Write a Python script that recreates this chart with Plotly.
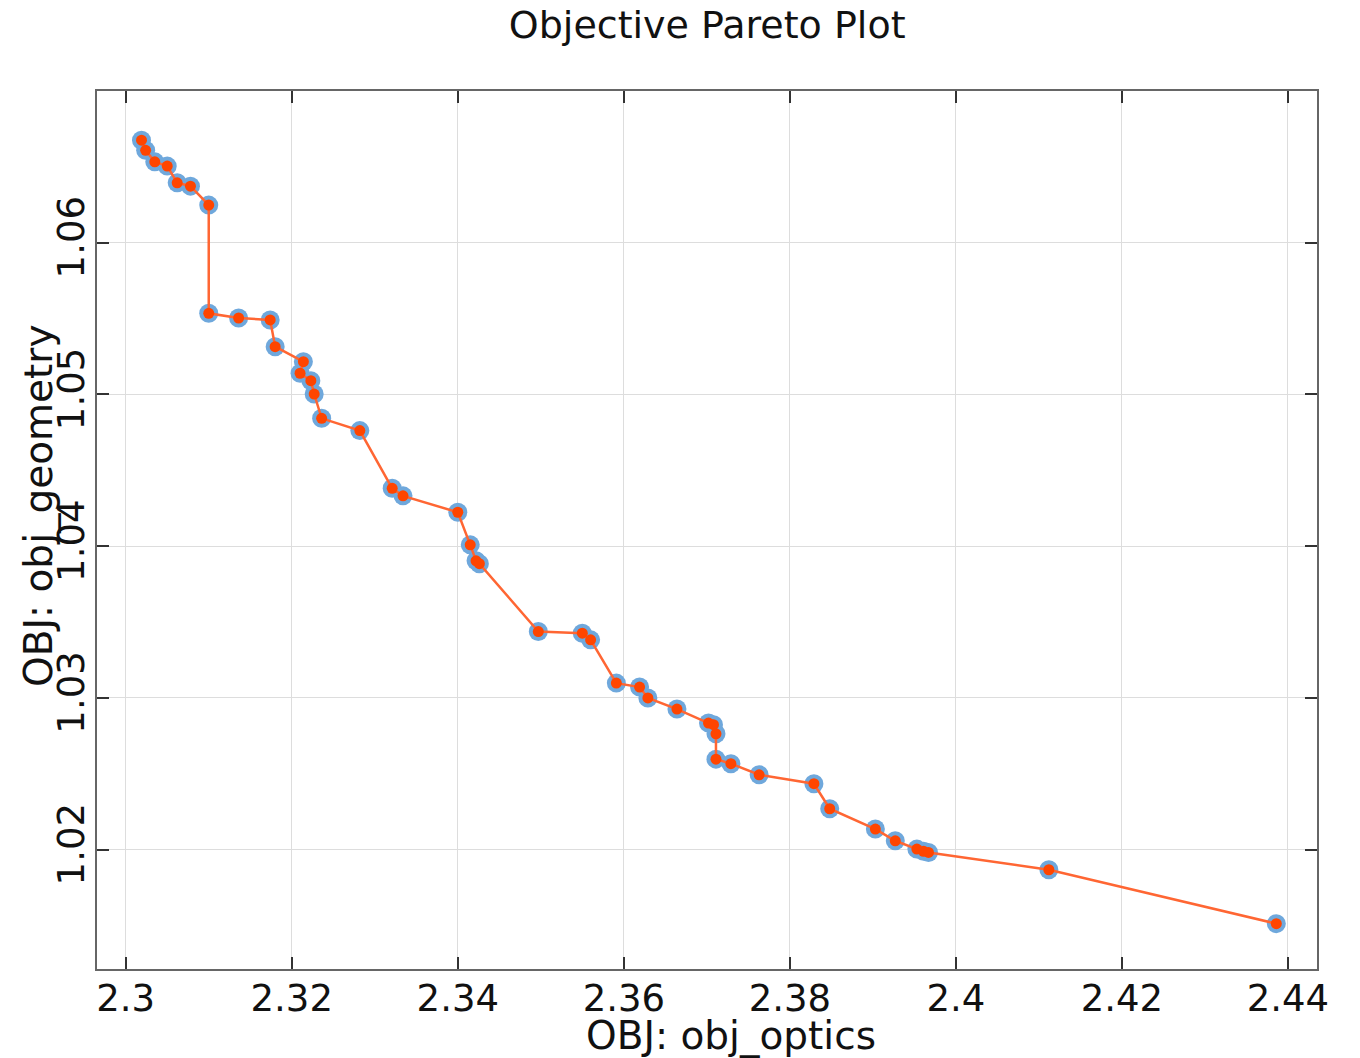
import plotly.graph_objects as go

obj_optics = [2.3019, 2.3024, 2.3035, 2.3050, 2.3062, 2.3078, 2.3100, 2.3100, 2.3136, 2.3174,
              2.3180, 2.3214, 2.3210, 2.3223, 2.3227, 2.3236, 2.3282, 2.3321, 2.3334, 2.3400,
              2.3415, 2.3422, 2.3426, 2.3497, 2.3550, 2.3560, 2.3591, 2.3619, 2.3629, 2.3664,
              2.3702, 2.3708, 2.3711, 2.3711, 2.3729, 2.3763, 2.3829, 2.3848, 2.3903, 2.3927,
              2.3953, 2.3961, 2.3967, 2.4112, 2.4386]
obj_geometry = [1.06676, 1.06609, 1.06533, 1.06505, 1.06395, 1.06373, 1.06248, 1.05535, 1.05504, 1.05491,
                1.05315, 1.05216, 1.05140, 1.05091, 1.05003, 1.04843, 1.04762, 1.04382, 1.04332, 1.04224,
                1.04009, 1.03904, 1.03885, 1.03438, 1.03427, 1.03383, 1.03098, 1.03072, 1.03000, 1.02927,
                1.02835, 1.02824, 1.02764, 1.02597, 1.02567, 1.02494, 1.02435, 1.02270, 1.02136, 1.02059,
                1.02004, 1.01990, 1.01982, 1.01868, 1.01513]

x_ticks = [2.30, 2.32, 2.34, 2.36, 2.38, 2.40, 2.42, 2.44]
x_tick_labels = ["2.3", "2.32", "2.34", "2.36", "2.38", "2.4", "2.42", "2.44"]
y_ticks = [1.02, 1.03, 1.04, 1.05, 1.06]
y_tick_labels = ["1.02", "1.03", "1.04", "1.05", "1.06"]

FONT = "DejaVu Sans"

fig = go.Figure()
fig.add_trace(go.Scatter(
    x=obj_optics, y=obj_geometry, mode="markers",
    marker=dict(size=19, color="#6fa8dc", line=dict(width=0)),
    hoverinfo="skip", showlegend=False,
))
fig.add_trace(go.Scatter(
    x=obj_optics, y=obj_geometry, mode="lines+markers",
    line=dict(color="#ff6633", width=2.5),
    marker=dict(size=11, color="#ff4500", line=dict(width=0)),
    showlegend=False,
))

axis_common = dict(
    showline=True, linecolor="#666666", linewidth=2, mirror="allticks",
    ticks="inside", ticklen=12, tickwidth=2, tickcolor="#333333",
    showgrid=True, gridcolor="#dddddd", gridwidth=1, zeroline=False,
    tickfont=dict(family=FONT, size=37, color="#111111"),
)

fig.update_layout(
    width=1360, height=1058,
    margin=dict(l=97, r=43, t=91, b=89),
    paper_bgcolor="white", plot_bgcolor="white",
    title=dict(text="Objective Pareto Plot", x=0.52, xanchor="center",
               y=1 - 25 / 1058, yanchor="middle", yref="container",
               font=dict(family=FONT, size=38, color="#111111")),
    xaxis=dict(range=[2.29654, 2.4435], tickvals=x_ticks, ticktext=x_tick_labels,
               ticklabelstandoff=-4, **axis_common),
    yaxis=dict(range=[1.01214, 1.07], tickvals=y_ticks, ticktext=y_tick_labels, tickangle=-90,
               ticklabelstandoff=-4, **axis_common),
    annotations=[
        dict(text="OBJ: obj_optics", xref="paper", yref="paper", x=0.5197, y=-0.0752,
             xanchor="center", yanchor="middle", showarrow=False,
             font=dict(family=FONT, size=39, color="#111111")),
        dict(text="OBJ: obj_geometry", xref="paper", yref="paper", x=-0.0484, y=0.5273,
             xanchor="center", yanchor="middle", textangle=-90, showarrow=False,
             font=dict(family=FONT, size=39, color="#111111")),
    ],
)

fig.write_html("out.html")
